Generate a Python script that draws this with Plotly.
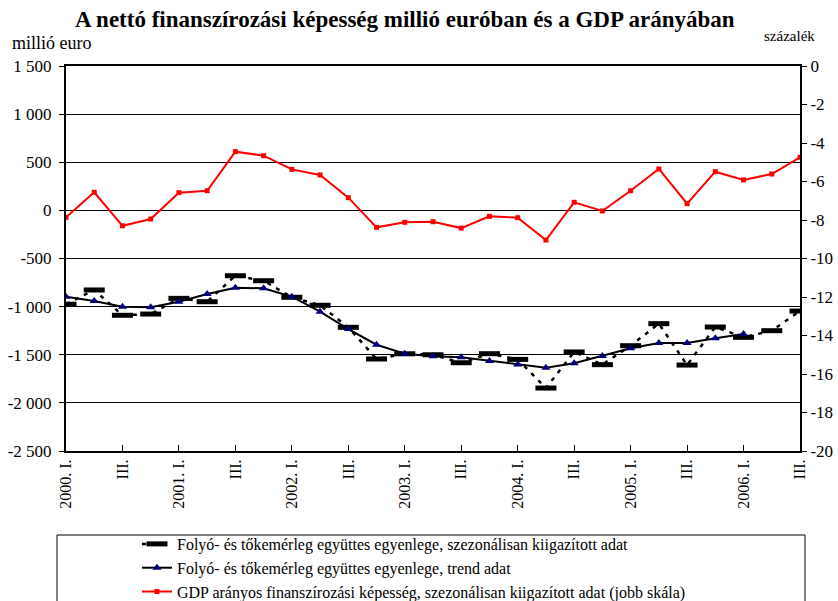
import plotly.graph_objects as go

categories = [f"{y}Q{q}" for y in range(2000, 2007) for q in range(1, 5)][:27]
x_tick_labels = ["2000. I.", "III.", "2001. I.", "III.", "2002. I.", "III.", "2003. I.", "III.",
                 "2004. I.", "III.", "2005. I.", "III.", "2006. I.", "III."]

seasonal_adj = [-975, -827, -1090, -1077,
                -914, -949, -679, -731,
                -903, -986, -1215, -1544,
                -1490, -1500, -1583, -1489,
                -1548, -1846, -1471, -1603,
                -1406, -1177, -1607, -1212,
                -1319, -1250, -1046]

trend = [-897, -942, -1000, -1007,
         -949, -869, -803, -810,
         -897, -1053, -1233, -1396,
         -1489, -1516, -1527, -1565,
         -1600, -1635, -1589, -1513,
         -1433, -1378, -1378, -1329,
         -1285, None, None]

gdp_ratio = [-7.86, -6.56, -8.30, -7.95,
             -6.58, -6.48, -4.45, -4.66,
             -5.37, -5.66, -6.84, -8.38,
             -8.12, -8.09, -8.42, -7.81,
             -7.88, -9.04, -7.08, -7.53,
             -6.48, -5.35, -7.15, -5.49,
             -5.92, -5.61, -4.74]

left_ticks = [1500, 1000, 500, 0, -500, -1000, -1500, -2000, -2500]
left_tick_text = ["1 500", "1 000", "500", "0", "-500", "-1 000", "-1 500", "-2 000", "-2 500"]
right_ticks = [0, -2, -4, -6, -8, -10, -12, -14, -16, -18, -20]
right_tick_text = ["0", "-2", "-4", "-6", "-8", "-10", "-12", "-14", "-16", "-18", "-20"]

names = ["Folyó- és tőkemérleg együttes egyenlege, szezonálisan kiigazított adat",
         "Folyó- és tőkemérleg együttes egyenlege, trend adat",
         "GDP arányos finanszírozási képesség, szezonálisan kiigazított adat (jobb skála)"]

FONT = "Liberation Serif"

fig = go.Figure()
fig.add_trace(go.Scatter(
    x=categories, y=seasonal_adj, name=names[0], mode="lines+markers",
    line=dict(color="black", width=2.5, dash="4px,6px"),
    marker=dict(symbol="line-ew", size=15, line=dict(width=5, color="black"), color="black"),
))
fig.add_trace(go.Scatter(
    x=categories, y=trend, name=names[1], mode="lines+markers",
    line=dict(color="black", width=2),
    marker=dict(symbol="triangle-up", size=8, color="#00007F"),
))
fig.add_trace(go.Scatter(
    x=categories, y=gdp_ratio, name=names[2], mode="lines+markers", yaxis="y2",
    line=dict(color="#FF0000", width=2),
    marker=dict(symbol="square", size=5, color="#FF0000"),
))

W, H = 838, 601
PL, PR, PT, PB = 66, 800, 66, 451          # plot area in pixels
L, T, R, B = PL, PT, W - PR, H - PB


def px(xp):
    return (xp - PL) / (PR - PL)


def py(yp):
    return (PB - yp) / (PB - PT)


fig.update_layout(
    width=W, height=H,
    margin=dict(l=L, r=R, t=T, b=B, autoexpand=False),
    paper_bgcolor="white", plot_bgcolor="white",
    font=dict(family=FONT, size=17, color="black"),
    showlegend=True,
    legend=dict(xref="container", yref="container", x=137 / W, y=1 - 527 / H,
                xanchor="left", yanchor="top",
                bgcolor="rgba(0,0,0,0)", borderwidth=0,
                font=dict(family=FONT, size=16), tracegroupgap=0),
    xaxis=dict(
        type="category", categoryorder="array", categoryarray=categories,
        range=[0, len(categories) - 1], automargin=False,
        tickmode="array", tickvals=categories[::2], ticktext=x_tick_labels,
        tickangle=-90, ticks="inside", ticklen=6, tickwidth=1, tickcolor="black",
        showline=True, linewidth=2, linecolor="black", mirror=True,
        showgrid=False, tickfont=dict(family=FONT, size=16),
    ),
    yaxis=dict(
        range=[-2500, 1500], tickmode="array", tickvals=left_ticks, ticktext=left_tick_text,
        ticks="outside", ticklen=5, tickcolor="black", automargin=False,
        ticklabelstandoff=4,
        showline=True, linewidth=2, linecolor="black",
        showgrid=True, gridcolor="black", gridwidth=1, zeroline=False,
        tickfont=dict(family=FONT, size=17),
    ),
    yaxis2=dict(
        range=[-20, 0], overlaying="y", side="right", automargin=False,
        tickmode="array", tickvals=right_ticks, ticktext=right_tick_text,
        ticks="outside", ticklen=5, tickcolor="black",
        showline=True, linewidth=2, linecolor="black",
        showgrid=False, zeroline=False,
        tickfont=dict(family=FONT, size=17),
    ),
    annotations=[
        dict(text="<b>A nettó finanszírozási képesség millió euróban és a GDP arányában</b>",
             xref="paper", yref="paper", x=px(405), y=py(19), xanchor="center", yanchor="middle",
             showarrow=False, font=dict(family=FONT, size=23)),
        dict(text="millió euro", xref="paper", yref="paper", x=px(10), y=py(43),
             xanchor="left", yanchor="middle", showarrow=False, font=dict(family=FONT, size=18)),
        dict(text="százalék", xref="paper", yref="paper", x=px(762), y=py(36),
             xanchor="left", yanchor="middle", showarrow=False, font=dict(family=FONT, size=15)),
    ],
    shapes=[
        dict(type="rect", xref="paper", yref="paper", x0=px(57), x1=px(805), y0=py(615), y1=py(535),
             line=dict(color="black", width=1), fillcolor="rgba(0,0,0,0)", layer="below"),
    ],
)

fig.write_html("out.html", config={"displayModeBar": False},
               post_script="document.body.style.margin='0';document.body.style.overflow='hidden';")
